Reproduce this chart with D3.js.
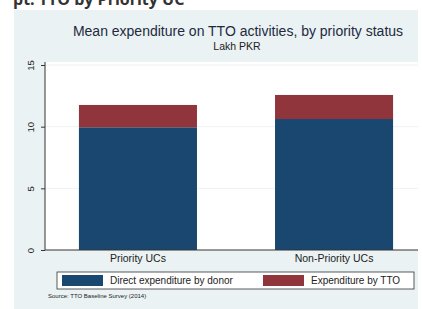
<html>
<title>TTO expenditure</title>
<script src="https://d3js.org/d3.v7.min.js"></script>
<style>
body { margin: 0; font-family: 'Liberation Sans', Arial, sans-serif; background: #fff; }
svg { display: block; }
text { fill: #222; }
</style>
<body>
<div id="chart"></div>
<script>
var categories = ["Priority UCs", "Non-Priority UCs"];
var seriesNames = ["Direct expenditure by donor", "Expenditure by TTO"];
var donor = [9.95, 10.62];
var tto = [1.81, 1.95];
var yTicks = [0, 5, 10, 15];
var colors = ["#1a476f", "#90353b"];

var width = 422, height = 309;
var plotLeft = 45, plotRight = 418, plotTop = 62, plotBottom = 250;

var svg = d3.select("#chart").append("svg")
	.attr("width", width).attr("height", height);

// cut-off heading above the figure
svg.append("text")
	.attr("x", 13).attr("y", 5)
	.style("font-size", "16px").style("font-weight", "bold")
	.style("font-family", "'Open Sans', sans-serif")
	.style("fill", "#333")
	.text("pt. TTO by Priority UC");

// stata background panel
svg.append("rect")
	.attr("x", 14).attr("y", 10)
	.attr("width", 404).attr("height", 299)
	.attr("fill", "#eaf2f3");

svg.append("rect")
	.attr("x", plotLeft).attr("y", plotTop)
	.attr("width", plotRight - plotLeft).attr("height", plotBottom - plotTop)
	.attr("fill", "#fff");

svg.append("text")
	.attr("x", 238).attr("y", 36)
	.attr("text-anchor", "middle")
	.style("font-size", "14px").style("fill", "#1e2a3e")
	.text("Mean expenditure on TTO activities, by priority status");

svg.append("text")
	.attr("x", 237).attr("y", 50)
	.attr("text-anchor", "middle")
	.style("font-size", "10.5px")
	.text("Lakh PKR");

var y = d3.scaleLinear().domain([0, 15]).range([plotBottom, 65]);
var x = d3.scaleBand().domain(categories)
	.range([plotLeft, 427]).paddingInner(0.398).paddingOuter(0.173);

// gridlines
svg.selectAll("line.grid").data(yTicks.slice(1)).enter().append("line")
	.attr("x1", plotLeft).attr("x2", plotRight)
	.attr("y1", function (d) { return y(d); }).attr("y2", function (d) { return y(d); })
	.attr("stroke", "#eef2f2").attr("stroke-width", 1);

categories.forEach(function (c, i) {
	svg.append("rect")
		.attr("x", x(c)).attr("width", x.bandwidth())
		.attr("y", y(donor[i])).attr("height", y(0) - y(donor[i]))
		.attr("fill", colors[0]);
	svg.append("rect")
		.attr("x", x(c)).attr("width", x.bandwidth())
		.attr("y", y(donor[i] + tto[i])).attr("height", y(donor[i]) - y(donor[i] + tto[i]))
		.attr("fill", colors[1]);
});

// y axis
var yAxis = d3.axisLeft(y).tickValues(yTicks).tickSize(4).tickSizeOuter(0);
var gy = svg.append("g").attr("transform", "translate(" + plotLeft + ",0)").call(yAxis);
gy.select(".domain").attr("d", "M0," + plotBottom + "V" + plotTop).attr("stroke", "#333");
gy.selectAll(".tick line").attr("stroke", "#333");
gy.selectAll(".tick text")
	.attr("x", 0).attr("dy", 0)
	.attr("transform", "translate(-11,0) rotate(-90)")
	.attr("text-anchor", "middle")
	.style("font-size", "9.5px").style("fill", "#222")
	.style("font-family", "'Liberation Sans', Arial, sans-serif");

// x axis
var xAxis = d3.axisBottom(x).tickSize(0).tickSizeOuter(0);
var gx = svg.append("g").attr("transform", "translate(0," + plotBottom + ")").call(xAxis);
gx.select(".domain").attr("d", "M" + plotLeft + ",0H" + plotRight).attr("stroke", "#333");
gx.selectAll(".tick text")
	.attr("y", 12).attr("dy", 0)
	.style("font-size", "10.5px").style("fill", "#222")
	.style("font-family", "'Liberation Sans', Arial, sans-serif");

// legend
svg.append("rect")
	.attr("x", 57).attr("y", 272).attr("width", 357).attr("height", 17)
	.attr("fill", "#fff").attr("stroke", "#333").attr("stroke-width", 0.8);

var legendX = [62, 263];
seriesNames.forEach(function (s, i) {
	svg.append("rect")
		.attr("x", legendX[i]).attr("y", 275)
		.attr("width", 41).attr("height", 11)
		.attr("fill", colors[i]);
	svg.append("text")
		.attr("x", legendX[i] + 48).attr("y", 284)
		.style("font-size", "10px")
		.text(s);
});

svg.append("text")
	.attr("x", 48).attr("y", 298)
	.style("font-size", "6px")
	.text("Source: TTO Baseline Survey (2014)");
</script>
</body>
</html>
